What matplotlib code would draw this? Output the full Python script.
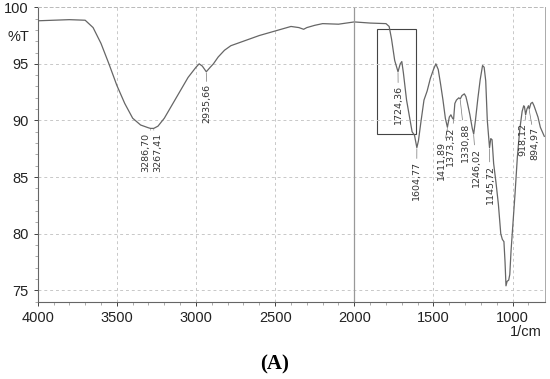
import matplotlib
matplotlib.use('Agg')
import matplotlib.pyplot as plt
from matplotlib.patches import Rectangle

# FTIR spectrum, wavenumber (1/cm) vs transmittance (%T)
wavenumber = [4000, 3900, 3800, 3700, 3650, 3600, 3550, 3500, 3450, 3400,
              3350, 3300, 3287, 3267, 3240, 3200, 3150, 3100, 3050, 3000,
              2980, 2960, 2935, 2910, 2890, 2860, 2820, 2780, 2700, 2600,
              2500, 2450, 2400, 2350, 2320, 2300, 2250, 2200, 2100, 2000,
              1900, 1800, 1780, 1765, 1745, 1724, 1710, 1700, 1690, 1670,
              1650, 1635, 1620, 1605, 1595, 1580, 1560, 1540, 1520, 1500,
              1485, 1470, 1455, 1440, 1425, 1412, 1400, 1390, 1380, 1373,
              1365, 1355, 1340, 1331, 1320, 1305, 1295, 1285, 1270, 1255,
              1246, 1235, 1220, 1205, 1190, 1180, 1170, 1160, 1146, 1138,
              1130, 1120, 1105, 1090, 1075, 1065, 1055, 1048, 1042, 1035,
              1025, 1018, 1010, 1000, 985, 970, 955, 940, 930, 925,
              918, 910, 900, 895, 885, 875, 865, 855, 840, 825, 800]
transmittance = [98.8, 98.85, 98.9, 98.85, 98.2, 96.8, 95.0, 93.1, 91.5, 90.2,
                 89.6, 89.35, 89.3, 89.3, 89.5, 90.2, 91.4, 92.6, 93.8, 94.7,
                 95.0, 94.8, 94.3, 94.7, 95.0, 95.6, 96.2, 96.6, 97.0, 97.5,
                 97.9, 98.1, 98.3, 98.2, 98.05, 98.2, 98.4, 98.55, 98.5, 98.7,
                 98.6, 98.55, 98.3, 97.2, 95.3, 94.3, 95.0, 95.2, 94.2, 91.8,
                 90.2, 89.0, 88.7, 87.6, 88.2, 89.8, 91.8, 92.6, 93.7, 94.5,
                 95.0, 94.5, 93.2, 91.8, 90.2, 89.4, 90.3, 90.5, 90.2, 90.1,
                 91.5, 91.8, 92.0, 91.9, 92.2, 92.35, 92.1, 91.5, 90.5, 89.3,
                 88.8, 90.0, 91.9, 93.6, 94.85, 94.7, 93.5, 90.0, 87.6, 88.4,
                 88.3, 86.2, 84.5, 82.6, 80.0, 79.5, 79.3, 77.5, 75.4, 75.8,
                 75.9, 76.4, 78.5, 80.5, 83.5, 86.8, 89.2, 90.8, 91.3, 91.2,
                 90.5, 91.0, 91.3, 91.0, 91.5, 91.6, 91.3, 90.9, 90.3, 89.4, 88.6]

# peak labels: text, peak position, peak %T, label x, label top
peak_labels = ['3286,70', '3267,41', '2935,66', '1724,36', '1604,77', '1411,89',
               '1373,32', '1330,88', '1246,02', '1145,72', '918,12', '894,97']
peak_x = [3287, 3267, 2935, 1724, 1605, 1412, 1373, 1331, 1246, 1146, 918, 895]
peak_y = [89.3, 89.3, 94.3, 94.3, 87.6, 89.4, 90.1, 91.9, 88.8, 87.6, 90.5, 91.0]
label_x = [3315, 3242, 2929, 1722, 1606, 1450, 1392, 1301, 1231, 1143, 935, 858]
label_top = [88.9, 88.9, 93.2, 93.1, 86.4, 88.2, 89.5, 89.8, 87.6, 86.1, 89.8, 89.4]

plt.rcParams['font.family'] = ['Liberation Sans', 'DejaVu Sans']

fig = plt.figure(figsize=(5.5, 3.79), dpi=100)
ax = fig.add_axes([0.0685, 0.204, 0.922, 0.777])

ax.plot(wavenumber, transmittance, color='#666666', lw=0.9)

for txt, px, py, lx, ly in zip(peak_labels, peak_x, peak_y, label_x, label_top):
    ax.annotate(txt, xy=(px, py - 0.1), xytext=(lx, ly), rotation=90,
                ha='center', va='top', fontsize=6.8, color='#333333',
                family='DejaVu Sans',
                arrowprops=dict(arrowstyle='-', lw=0.5, color='#777777',
                                shrinkA=0, shrinkB=0))

ax.add_patch(Rectangle((1610, 88.8), 245, 9.3, fill=False,
                       edgecolor='#444444', lw=0.8))

ax.set_xlim(4000, 797)
ax.set_ylim(74, 100)
ax.set_xticks([4000, 3500, 3000, 2500, 2000, 1500, 1000])
ax.set_xticks(range(900, 4000, 100), minor=True)
ax.set_yticks([75, 80, 85, 90, 95, 100])
ax.set_yticks(range(74, 100), minor=True)
ax.tick_params(labelsize=10.5, colors='#222222', length=3, width=0.6)
ax.tick_params(which='minor', length=2, width=0.5, color='#888888')

ax.grid(True, which='major', linestyle=(0, (3, 3)), color='#c8c8c8', lw=0.7)
ax.axvline(2000, color='#999999', lw=0.9)

for side in ['left', 'bottom']:
    ax.spines[side].set_color('#666666')
    ax.spines[side].set_linewidth(0.8)
ax.spines['right'].set_color('#aaaaaa')
ax.spines['right'].set_linewidth(0.7)
ax.spines['top'].set_color('#bbbbbb')
ax.spines['top'].set_linestyle((0, (3, 3)))
ax.spines['top'].set_linewidth(0.7)

fig.text(0.013, 0.902, '%T', fontsize=10.5, color='#222222', va='center')
fig.text(0.985, 0.125, '1/cm', fontsize=10.5, color='#222222', ha='right', va='center')
fig.text(0.5, 0.037, '(A)', fontsize=15, fontweight='bold',
         family='Liberation Serif', ha='center', va='center')

fig.savefig('out.png', dpi=100)
